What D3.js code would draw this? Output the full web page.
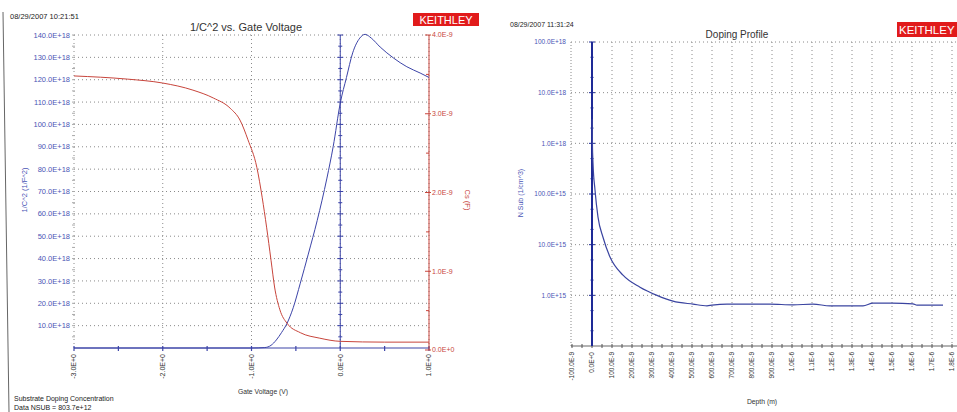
<!DOCTYPE html>
<html><head><meta charset="utf-8">
<script src="https://cdn.jsdelivr.net/npm/d3@7"></script>
<style>
body{margin:0;background:#fff;}
svg{display:block;font-family:"Liberation Sans",Arial,sans-serif;}
</style></head><body>
<svg id="c" width="957" height="412"></svg>
<script>
// ---------- Left chart data: 1/C^2 and Cs vs Gate Voltage ----------
const gateBlue = [-3.0, -2.0, -1.0, -0.85, -0.78, -0.72, -0.66, -0.60, -0.53, -0.45, -0.36, -0.26, -0.15, -0.08, 0.0, 0.07, 0.14, 0.22, 0.28, 0.35, 0.45, 0.6, 0.75, 0.9, 1.0];
const invC2 = [0, 0, 0, 0.2, 1.2, 3.6, 7, 11, 18, 29, 42, 57, 76, 90, 109.5, 121, 132, 138.6, 140.3, 138.6, 134.6, 129.7, 125.8, 123, 121]; // x 1E+18
const gateRed = [-3.0, -2.4, -2.0, -1.66, -1.43, -1.24, -1.13, -1.04, -0.94, -0.88, -0.83, -0.78, -0.74, -0.68, -0.60, -0.45, -0.23, 0.0, 0.5, 1.0];
const capCs = [3.48, 3.44, 3.39, 3.30, 3.20, 3.07, 2.92, 2.67, 2.32, 1.94, 1.56, 1.14, 0.80, 0.51, 0.34, 0.22, 0.15, 0.11, 0.10, 0.10]; // x 1E-9
const leftXTicks = [-3, -2, -1, 0, 1];
const leftXLabels = ["-3.0E+0", "-2.0E+0", "-1.0E+0", "0.0E+0", "1.0E+0"];
const leftYTicks = [10, 20, 30, 40, 50, 60, 70, 80, 90, 100, 110, 120, 130, 140];
const leftYLabels = ["10.0E+18","20.0E+18","30.0E+18","40.0E+18","50.0E+18","60.0E+18","70.0E+18","80.0E+18","90.0E+18","100.0E+18","110.0E+18","120.0E+18","130.0E+18","140.0E+18"];
const rightYTicks = [0, 1, 2, 3, 4];
const rightYLabels = ["0.0E+0", "1.0E-9", "2.0E-9", "3.0E-9", "4.0E-9"];

// ---------- Right chart data: Doping profile ----------
const depthNm = [0.5, 2, 5, 15, 30, 55, 90, 155, 240, 325, 405, 505, 575, 600, 675, 780, 890, 1005, 1105, 1190, 1280, 1355, 1405, 1500, 1605, 1625, 1755];
const nSub = [3.0e18, 1.0e18, 4.1e17, 1.2e17, 3.5e16, 1.4e16, 5.7e15, 2.5e15, 1.45e15, 1.0e15, 7.7e14, 6.7e14, 6.2e14, 6.4e14, 6.7e14, 6.7e14, 6.7e14, 6.5e14, 6.7e14, 6.2e14, 6.2e14, 6.2e14, 7.0e14, 7.0e14, 6.8e14, 6.4e14, 6.4e14];
const depthTicks = [-100, 0, 100, 200, 300, 400, 500, 600, 700, 800, 900, 1000, 1100, 1200, 1300, 1400, 1500, 1600, 1700, 1800];
const depthLabels = ["-100.0E-9","0.0E+0","100.0E-9","200.0E-9","300.0E-9","400.0E-9","500.0E-9","600.0E-9","700.0E-9","800.0E-9","900.0E-9","1.0E-6","1.1E-6","1.2E-6","1.3E-6","1.4E-6","1.5E-6","1.6E-6","1.7E-6","1.8E-6"];
const nTicks = [1e15, 1e16, 1e17, 1e18, 1e19, 1e20];
const nLabels = ["1.0E+15","10.0E+15","100.0E+15","1.0E+18","10.0E+18","100.0E+18"];

const svg = d3.select("#c");
const BLUE = "#3c44a8", BLUE_TXT = "#4a55b5", RED = "#c8453c", GRID = "#8a8a8a";

svg.append("line").attr("x1",3).attr("y1",12).attr("x2",9).attr("y2",412).attr("stroke","#666").attr("stroke-width",1);

// ================= LEFT CHART =================
const L = {x0:74, x1:429, yTop:35, yBot:348};
const xL = d3.scaleLinear().domain([-3,1]).range([L.x0,L.x1]);
const yL = d3.scaleLinear().domain([0,140]).range([L.yBot,L.yTop]);
const yR = d3.scaleLinear().domain([0,4]).range([350,35]);

svg.append("text").attr("x",10).attr("y",19).attr("font-size",7.5).attr("fill","#222").text("08/29/2007 10:21:51");
svg.append("text").attr("x",246).attr("y",31).attr("text-anchor","middle").attr("font-size",11).attr("fill","#333").text("1/C^2 vs. Gate Voltage");
svg.append("rect").attr("x",413).attr("y",13).attr("width",66).attr("height",13).attr("fill","#e11b1b");
svg.append("text").attr("x",446).attr("y",23.5).attr("text-anchor","middle").attr("font-size",11).attr("fill","#fff").text("KEITHLEY");

const gL = svg.append("g");
gL.selectAll("line.hg").data(leftYTicks).join("line")
  .attr("x1",L.x0).attr("x2",L.x1).attr("y1",d=>yL(d)).attr("y2",d=>yL(d))
  .attr("stroke",GRID).attr("stroke-dasharray","1,3").attr("stroke-width",1);
gL.selectAll("line.vg").data(leftXTicks).join("line")
  .attr("x1",d=>xL(d)).attr("x2",d=>xL(d)).attr("y1",L.yTop).attr("y2",L.yBot)
  .attr("stroke",GRID).attr("stroke-dasharray","1,3").attr("stroke-width",1);
gL.selectAll("line.lt").data(d3.range(5,145,5)).join("line")
  .attr("x1",L.x0-2).attr("x2",L.x0+1).attr("y1",d=>yL(d)).attr("y2",d=>yL(d)).attr("stroke","#aaa");
gL.selectAll("text.yl").data(leftYTicks).join("text")
  .attr("x",L.x0-4).attr("y",d=>yL(d)).attr("dy","0.35em").attr("text-anchor","end")
  .attr("font-size",7.5).attr("fill",BLUE_TXT).text((d,i)=>leftYLabels[i]);
svg.append("text").attr("transform","translate(27,190) rotate(-90)").attr("text-anchor","middle")
  .attr("font-size",7.5).attr("fill",BLUE_TXT).text("1/C^2 (1/F^2)");

gL.append("line").attr("x1",L.x0).attr("x2",L.x1).attr("y1",yL(0)).attr("y2",yL(0)).attr("stroke",BLUE).attr("stroke-width",1.2);
gL.selectAll("line.xt").data(d3.range(-3,1.01,0.5)).join("line")
  .attr("x1",d=>xL(d)).attr("x2",d=>xL(d)).attr("y1",yL(0)-2).attr("y2",yL(0)+3).attr("stroke",BLUE).attr("stroke-width",1.2);
gL.append("line").attr("x1",xL(0)).attr("x2",xL(0)).attr("y1",L.yTop).attr("y2",L.yBot).attr("stroke",BLUE).attr("stroke-width",1);
gL.selectAll("line.bt").data(d3.range(5,145,5)).join("line")
  .attr("x1",d=>xL(0)-(d%10===0?3:2)).attr("x2",d=>xL(0)+(d%10===0?3:2)).attr("y1",d=>yL(d)).attr("y2",d=>yL(d)).attr("stroke",BLUE);
gL.selectAll("text.xl").data(leftXTicks).join("text")
  .attr("transform",d=>`translate(${xL(d)},${L.yBot+6}) rotate(-90)`).attr("dy","0.35em").attr("text-anchor","end")
  .attr("font-size",7).attr("fill","#333").text((d,i)=>leftXLabels[i]);
svg.append("text").attr("x",263).attr("y",394).attr("text-anchor","middle").attr("font-size",6.8).attr("fill","#333").text("Gate Voltage (V)");

gL.append("line").attr("x1",L.x1).attr("x2",L.x1).attr("y1",yR(4)).attr("y2",yR(0)).attr("stroke",RED).attr("stroke-width",1);
gL.selectAll("line.rt").data(d3.range(0,4.01,0.5)).join("line")
  .attr("x1",d=>L.x1-(d%1===0?4:3)).attr("x2",d=>L.x1+(d%1===0?2:0)).attr("y1",d=>yR(d)).attr("y2",d=>yR(d)).attr("stroke",RED);
gL.selectAll("text.rl").data(rightYTicks).join("text")
  .attr("x",L.x1+3).attr("y",d=>yR(d)).attr("dy","0.35em").attr("font-size",7).attr("fill",RED).text((d,i)=>rightYLabels[i]);
svg.append("text").attr("transform","translate(465,200) rotate(90)").attr("text-anchor","middle")
  .attr("font-size",7.5).attr("fill",RED).text("Cs (F)");

const lineB = d3.line().x((d,i)=>xL(gateBlue[i])).y(d=>yL(d)).curve(d3.curveMonotoneX);
gL.append("path").attr("d",lineB(invC2)).attr("fill","none").attr("stroke",BLUE).attr("stroke-width",1);
const lineR = d3.line().x((d,i)=>xL(gateRed[i])).y(d=>yR(d)).curve(d3.curveMonotoneX);
gL.append("path").attr("d",lineR(capCs)).attr("fill","none").attr("stroke",RED).attr("stroke-width",1);

svg.append("text").attr("x",14).attr("y",401).attr("font-size",7).attr("fill","#222").text("Substrate Doping Concentration");
svg.append("text").attr("x",14).attr("y",409.5).attr("font-size",7).attr("fill","#222").text("Data NSUB = 803.7e+12");

// ================= RIGHT CHART =================
const R = {x0:571, x1:957, yTop:42, yBot:346};
const xD = d3.scaleLinear().domain([-100,1800]).range([572,952]);
const yN = d3.scaleLog().domain([1e14,1e20]).range([R.yBot,R.yTop]);

svg.append("text").attr("x",510).attr("y",27).attr("font-size",7).attr("fill","#222").text("08/29/2007 11:31:24");
svg.append("text").attr("x",737).attr("y",38).attr("text-anchor","middle").attr("font-size",10).attr("fill","#333").text("Doping Profile");
svg.append("rect").attr("x",897).attr("y",22).attr("width",70).attr("height",15).attr("fill","#e11b1b");
svg.append("text").attr("x",899).attr("y",34).attr("font-size",11.5).attr("fill","#fff").text("KEITHLEY");

const gR = svg.append("g");
gR.selectAll("line.hg").data(nTicks).join("line")
  .attr("x1",R.x0).attr("x2",R.x1).attr("y1",d=>yN(d)).attr("y2",d=>yN(d))
  .attr("stroke",GRID).attr("stroke-dasharray","1,3");
gR.selectAll("line.vg").data(depthTicks.slice(1)).join("line")
  .attr("x1",d=>xD(d)).attr("x2",d=>xD(d)).attr("y1",R.yTop).attr("y2",R.yBot)
  .attr("stroke",GRID).attr("stroke-dasharray","1,3");
gR.append("line").attr("x1",R.x0).attr("x2",R.x0).attr("y1",R.yTop).attr("y2",R.yBot).attr("stroke",GRID).attr("stroke-dasharray","1,2");
gR.selectAll("text.yl").data(nTicks).join("text")
  .attr("x",R.x0-5).attr("y",d=>yN(d)).attr("dy","0.35em").attr("text-anchor","end")
  .attr("font-size",6.5).attr("fill",BLUE_TXT).text((d,i)=>nLabels[i]);
svg.append("text").attr("transform","translate(523,193) rotate(-90)").attr("text-anchor","middle")
  .attr("font-size",7).attr("fill",BLUE_TXT).text("N Sub (1/cm^3)");

gR.append("line").attr("x1",R.x0).attr("x2",R.x1).attr("y1",R.yBot).attr("y2",R.yBot).attr("stroke","#666");
gR.selectAll("line.xt").data(d3.range(-100,1851,50)).join("line")
  .attr("x1",d=>xD(d)).attr("x2",d=>xD(d)).attr("y1",R.yBot-2).attr("y2",R.yBot+2).attr("stroke","#555");
gR.selectAll("text.xl").data(depthTicks).join("text")
  .attr("transform",d=>`translate(${xD(d)},${R.yBot+6}) rotate(-90)`).attr("dy","0.35em").attr("text-anchor","end")
  .attr("font-size",6.5).attr("fill","#333").text((d,i)=>depthLabels[i]);
svg.append("text").attr("x",762).attr("y",404).attr("text-anchor","middle").attr("font-size",6.8).attr("fill","#333").text("Depth (m)");

gR.append("line").attr("x1",xD(0)).attr("x2",xD(0)).attr("y1",R.yTop).attr("y2",R.yBot).attr("stroke","#1e2a96").attr("stroke-width",2);
const minorLog = [];
[1e14,1e15,1e16,1e17,1e18,1e19].forEach(b=>{[2,5].forEach(k=>minorLog.push(b*k));});
gR.selectAll("line.bm").data(minorLog).join("line")
  .attr("x1",xD(0)-1.5).attr("x2",xD(0)+1.5).attr("y1",d=>yN(d)).attr("y2",d=>yN(d)).attr("stroke","#1e2a96");
gR.selectAll("line.bM").data(nTicks).join("line")
  .attr("x1",xD(0)-3).attr("x2",xD(0)+3).attr("y1",d=>yN(d)).attr("y2",d=>yN(d)).attr("stroke","#1e2a96");

const lineD = d3.line().x((d,i)=>xD(depthNm[i])).y(d=>yN(d)).curve(d3.curveMonotoneX);
gR.append("path").attr("d",lineD(nSub)).attr("fill","none").attr("stroke","#3a44a0").attr("stroke-width",1.2);
</script>
</body></html>
